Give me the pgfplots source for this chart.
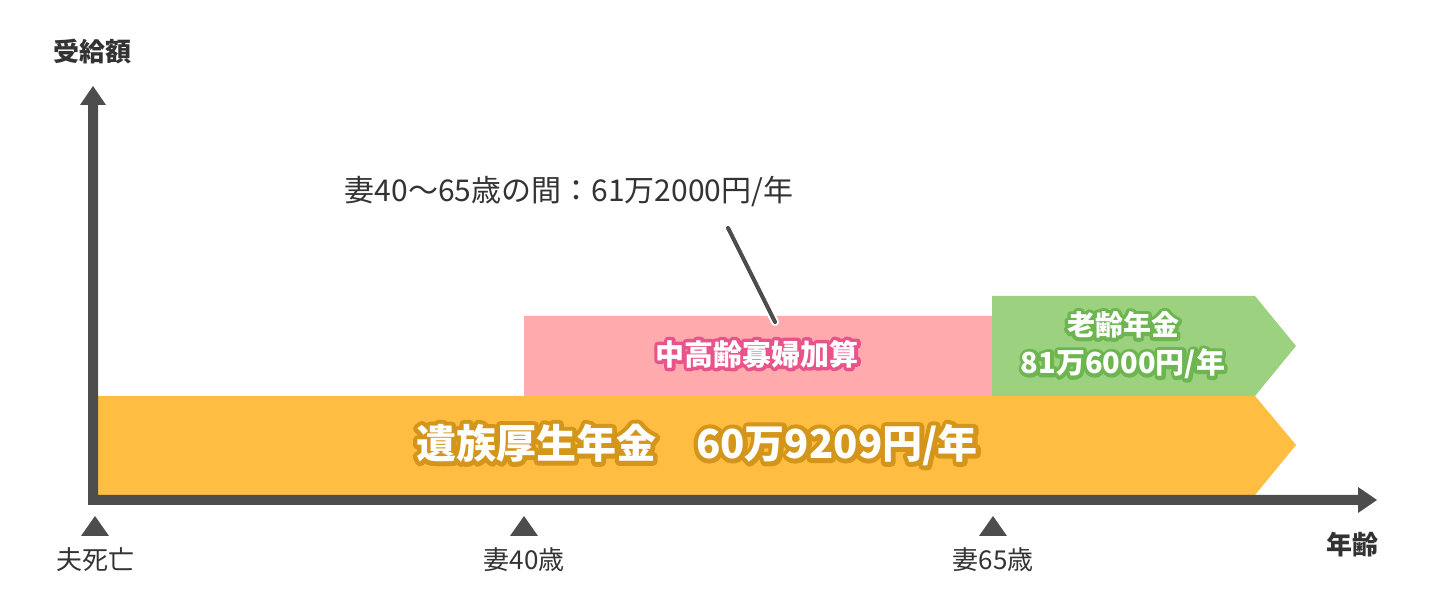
\documentclass[border=0pt]{standalone}
\usepackage{fontspec}
\setmainfont{Noto Sans CJK JP}
\usepackage{pgfplots}
\pgfplotsset{compat=1.18}

\definecolor{axisgray}{HTML}{4D4D4D}
\definecolor{txtgray}{HTML}{333333}
\definecolor{orangebar}{HTML}{FFBE41}
\definecolor{orangeline}{HTML}{D4951B}
\definecolor{pinkbar}{HTML}{FFABAE}
\definecolor{pinkline}{HTML}{E8538A}
\definecolor{greenbar}{HTML}{9CD27F}
\definecolor{greenline}{HTML}{6DB54F}

% stroked (outline) copy of a text: colour, stroke width in bp, text
\newcommand\outl[3]{\begingroup\color{#1}\special{pdf:literal direct 1 Tr #2 w 1 j}#3\special{pdf:literal direct 0 Tr}\endgroup}

\begin{document}
\begin{tikzpicture}
\begin{axis}[
  width=728pt, height=307pt, scale only axis,
  xmin=0, xmax=1456, ymin=0, ymax=614,
  hide axis, clip=false,
]
% frame of the picture, not drawn
\addplot[draw=none] coordinates {(0,0) (1456,614)};

% bands (pixel units, y upwards)
\addplot[fill=orangebar, draw=none] coordinates {(98,119) (98,218) (1255,218) (1296,169) (1255,119) (98,119)};
\addplot[fill=pinkbar, draw=none] coordinates {(524,218) (524,298) (992,298) (992,218) (524,218)};
\addplot[fill=greenbar, draw=none] coordinates {(992,218) (992,318) (1255,318) (1296,268) (1255,218) (992,218)};

% axes
\addplot[fill=axisgray, draw=none] coordinates {(88,109) (88,509) (80,509) (93,528) (106,509) (98,509) (98,109) (88,109)};
\addplot[fill=axisgray, draw=none] coordinates {(88,109) (88,119) (1358,119) (1358,127) (1377,114) (1358,101) (1358,109) (88,109)};

% markers under the x axis
\addplot[fill=axisgray, draw=none] coordinates {(81,78) (95,98) (109,78) (81,78)};
\addplot[fill=axisgray, draw=none] coordinates {(510,78) (524,98) (538,78) (510,78)};
\addplot[fill=axisgray, draw=none] coordinates {(979,78) (993,98) (1007,78) (979,78)};

% callout line
\addplot[white, line width=4pt, line cap=round] coordinates {(728,386) (775,292)};
\addplot[axisgray, line width=2pt, line cap=round] coordinates {(728,386) (775,292)};

% labels
\node[txtgray, font=\fontsize{13}{15}\selectfont\bfseries] at (axis cs:93,562) {受給額};
\node[txtgray, font=\fontsize{13}{15}\selectfont\bfseries] at (axis cs:1352,69) {年齢};
\node[txtgray, font=\fontsize{13}{15}\selectfont] at (axis cs:95,54) {夫死亡};
\node[txtgray, font=\fontsize{13}{15}\selectfont] at (axis cs:524,54) {妻40歳};
\node[txtgray, font=\fontsize{13}{15}\selectfont] at (axis cs:993,54) {妻65歳};
\node[txtgray, font=\fontsize{15}{17}\selectfont] at (axis cs:569,422) {妻40〜65歳の間：61万2000円/年};

\node[font=\fontsize{20}{22}\selectfont\bfseries] at (axis cs:697,169) {\outl{orangeline}{4.5}{遺族厚生年金　60万9209円/年}};
\node[white, font=\fontsize{20}{22}\selectfont\bfseries] at (axis cs:697,169) {遺族厚生年金　60万9209円/年};
\node[font=\fontsize{14.5}{16}\selectfont\bfseries] at (axis cs:757,260) {\outl{pinkline}{3.5}{中高齢寡婦加算}};
\node[white, font=\fontsize{14.5}{16}\selectfont\bfseries] at (axis cs:757,260) {中高齢寡婦加算};
\node[font=\fontsize{14}{16}\selectfont\bfseries] at (axis cs:1123,289) {\outl{greenline}{3.5}{老齢年金}};
\node[white, font=\fontsize{14}{16}\selectfont\bfseries] at (axis cs:1123,289) {老齢年金};
\node[font=\fontsize{14.5}{16}\selectfont\bfseries] at (axis cs:1123,250) {\outl{greenline}{3.5}{81万6000円/年}};
\node[white, font=\fontsize{14.5}{16}\selectfont\bfseries] at (axis cs:1123,250) {81万6000円/年};
\end{axis}
\end{tikzpicture}
\end{document}
